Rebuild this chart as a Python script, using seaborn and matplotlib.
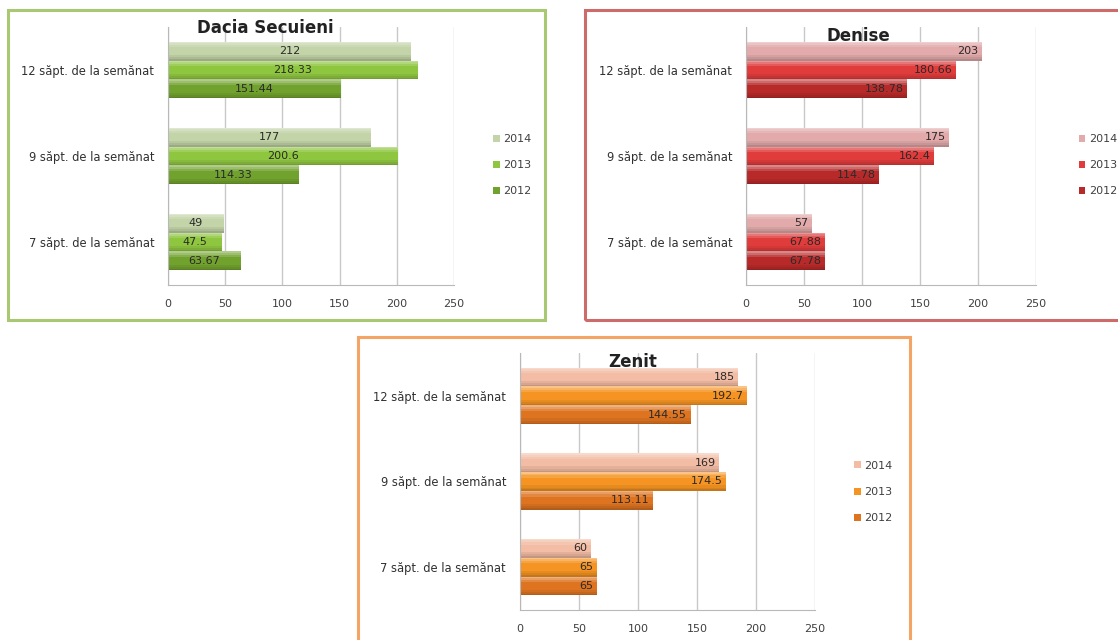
import numpy as np
import pandas as pd
import matplotlib
matplotlib.use("Agg")
import matplotlib.pyplot as plt
from matplotlib.patches import Rectangle
import seaborn as sns

# ---------------------------------------------------------------------------
# data
# ---------------------------------------------------------------------------
stages = ["12 săpt. de la semănat", "9 săpt. de la semănat", "7 săpt. de la semănat"]
years = ["2014", "2013", "2012"]

dacia_2014 = [212, 177, 49]
dacia_2013 = [218.33, 200.6, 47.5]
dacia_2012 = [151.44, 114.33, 63.67]

denise_2014 = [203, 175, 57]
denise_2013 = [180.66, 162.4, 67.88]
denise_2012 = [138.78, 114.78, 67.78]

zenit_2014 = [185, 169, 60]
zenit_2013 = [192.7, 174.5, 65]
zenit_2012 = [144.55, 113.11, 65]

x_ticks = [0, 50, 100, 150, 200, 250]


def long_df(v14, v13, v12):
    rows = []
    for yr, vals in zip(years, [v14, v13, v12]):
        for st, v in zip(stages, vals):
            rows.append({"stage": st, "year": yr, "value": v})
    return pd.DataFrame(rows)


sns.set_style("white")
plt.rcParams["font.family"] = ["DejaVu Sans"]

fig = plt.figure(figsize=(11.18, 6.4), dpi=100)
fig.patch.set_facecolor("white")

panels = [
    dict(name="Dacia Secuieni", df=long_df(dacia_2014, dacia_2013, dacia_2012),
         pal=["#c3d4a8", "#8fc640", "#72a22e"], border="#a9c872",
         box=(0.0072, 0.5, 0.4803, 0.4844),
         ax=(0.1503, 0.5547, 0.2558, 0.4031),
         title=(0.237, 0.957), leg=(0.432, 0.742), lab="center"),
    dict(name="Denise", df=long_df(denise_2014, denise_2013, denise_2012),
         pal=["#e2aaaa", "#e03c3c", "#b82a2a"], border="#cd6b6b",
         box=(0.5233, 0.5, 0.49, 0.4844),
         ax=(0.6673, 0.5547, 0.2594, 0.4031),
         title=(0.7675, 0.944), leg=(0.956, 0.742), lab="edge"),
    dict(name="Zenit", df=long_df(zenit_2014, zenit_2013, zenit_2012),
         pal=["#f3bca4", "#f59422", "#de7420"], border="#f4a464",
         box=(0.3202, -0.01, 0.4937, 0.483),
         ax=(0.4651, 0.0469, 0.2639, 0.4016),
         title=(0.566, 0.434), leg=(0.755, 0.2313), lab="edge"),
]

# shading steps across bar height: (start, end, colour, alpha)
shade = [(0.00, 0.08, "white", 0.45), (0.08, 0.18, "white", 0.30),
         (0.18, 0.30, "white", 0.15), (0.70, 0.82, "black", 0.06),
         (0.82, 0.92, "black", 0.12), (0.92, 1.00, "black", 0.20)]

for p in panels:
    # coloured frame around each chart
    fig.patches.append(Rectangle(p["box"][:2], p["box"][2], p["box"][3],
                                 transform=fig.transFigure, fill=False,
                                 edgecolor=p["border"], linewidth=2.2,
                                 zorder=0))

    ax = fig.add_axes(p["ax"])
    sns.barplot(data=p["df"], y="stage", x="value", hue="year",
                order=stages, hue_order=years, palette=p["pal"],
                orient="h", width=0.66, saturation=1, ax=ax,
                edgecolor="none")

    ax.set_xlim(0, 250)
    ax.set_ylim(2.5, -0.5)
    ax.set_xticks(x_ticks)
    ax.set_xticklabels([str(t) for t in x_ticks])
    ax.set_xlabel("")
    ax.set_ylabel("")
    ax.xaxis.grid(True, color="#c8c8c8", linewidth=1)
    ax.set_axisbelow(True)
    for s in ["top", "right"]:
        ax.spines[s].set_visible(False)
    for s in ["left", "bottom"]:
        ax.spines[s].set_color("#b8b8b8")
    ax.tick_params(axis="x", length=0, labelsize=8, colors="#404040", pad=10)
    ax.tick_params(axis="y", length=0, labelsize=8.3, colors="#303030", pad=10)
    ax.set_yticks([-0.5, 0.5, 1.5, 2.5], minor=True)
    ax.tick_params(axis="y", which="minor", length=4, color="#b8b8b8")

    # soft gradient on each bar (3D look of the original)
    for cont in ax.containers:
        for bar in cont:
            x0, y0 = bar.get_x(), bar.get_y()
            w, h = bar.get_width(), bar.get_height()
            for a, b, c, al in shade:
                ax.add_patch(Rectangle((x0, y0 + a * h), w, (b - a) * h,
                                       facecolor=c, alpha=al,
                                       edgecolor="none"))

    # value labels
    for cont in ax.containers:
        for bar in cont:
            w = bar.get_width()
            yc = bar.get_y() + bar.get_height() / 2
            txt = f"{w:g}"
            if p["lab"] == "center":
                ax.text(w / 2, yc, txt, ha="center", va="center",
                        fontsize=8, color="#2a2a2a")
            else:
                ax.text(w - 3, yc, txt, ha="right", va="center",
                        fontsize=8, color="#2a2a2a")

    handles, labels = ax.get_legend_handles_labels()
    ax.legend(handles, labels, loc="center left", bbox_to_anchor=p["leg"],
              bbox_transform=fig.transFigure, frameon=False, fontsize=8,
              handlelength=0.6, handleheight=0.6, handletextpad=0.3,
              labelspacing=1.45, labelcolor="#404040")

    fig.text(p["title"][0], p["title"][1], p["name"], ha="center",
             va="center", fontsize=12, fontweight="bold", color="#222222")

fig.savefig("out.png", dpi=100)
